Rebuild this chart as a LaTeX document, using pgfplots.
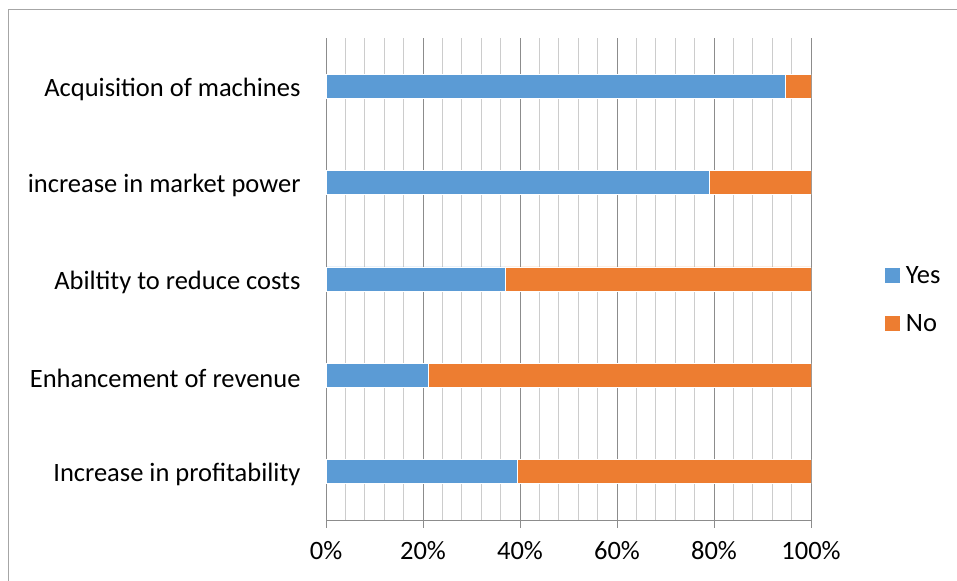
\documentclass[border=0pt]{standalone}
\usepackage{fontspec}
\setmainfont{Carlito}
\usepackage{pgfplots}
\pgfplotsset{compat=1.18}
\definecolor{yesblue}{HTML}{5B9BD5}
\definecolor{noorange}{HTML}{ED7D31}
\begin{document}
\begin{tikzpicture}[x=1bp,y=1bp]
\useasboundingbox (0,0) rectangle (957,581);
\draw[gray!70, line width=1bp] (8,0) -- (8,571) -- (957,571);
\begin{axis}[
    at={(326bp,61bp)}, anchor=south west,
    scale only axis, width=485bp, height=482bp,
    xbar stacked, bar width=24bp,
    xmin=0, xmax=100, ymin=-0.5, ymax=4.5,
    ytick={0,1,2,3,4},
    yticklabels={Increase in profitability, Enhancement of revenue, Abiltity to reduce costs, increase in market power, Acquisition of machines},
    xtick={0,20,...,100},
    xticklabel={\pgfmathprintnumber{\tick}\%},
    minor x tick num=4,
    xmajorgrids, xminorgrids,
    major grid style={color=black!45, line width=0.8bp},
    minor grid style={color=black!20, line width=0.8bp},
    axis x line*=bottom, axis y line*=left,
    axis line style={color=black!45, line width=0.8bp},
    tick align=outside,
    major tick length=8bp, minor tick length=0bp,
    xtick style={color=black!45, line width=0.8bp},
    ytick style={draw=none},
    tick label style={font=\fontsize{26.6}{31}\selectfont, text=black},
    yticklabel style={xshift=-14bp, yshift=-3bp},
    xticklabel style={yshift=-10bp},
    /pgf/number format/assume math mode=true,
    legend style={draw=none, fill=none, at={(1.152,0.53)}, anchor=north west,
        font=\fontsize{26.6}{31}\selectfont, row sep=25bp, inner sep=0pt},
    legend cell align=left,
    legend image code/.code={\fill[#1, draw=none] (0bp,-7.5bp) rectangle (15bp,7.5bp); \path[draw=none, fill=none] (0bp,0bp) -- (19bp,0bp);},
]
\addplot[fill=yesblue, draw=white, line width=0.6bp] coordinates {
    (39.4,0) (21,1) (36.9,2) (79,3) (94.8,4)
};
\addplot[fill=noorange, draw=white, line width=0.6bp] coordinates {
    (60.6,0) (79,1) (63.1,2) (21,3) (5.2,4)
};
\legend{Yes, No}
\end{axis}
\end{tikzpicture}
\end{document}
